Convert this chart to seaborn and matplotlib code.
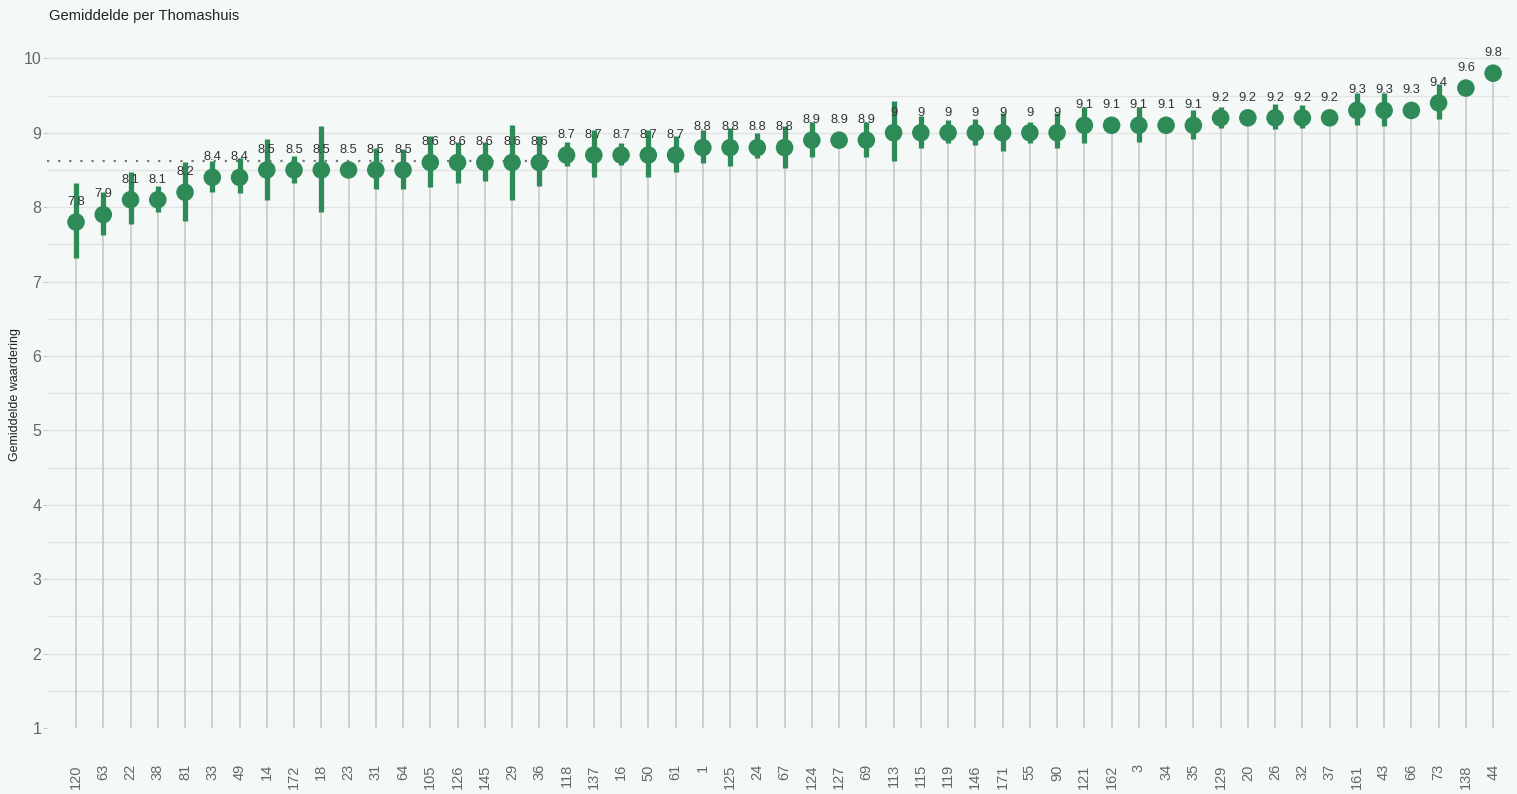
import numpy as np
import pandas as pd
import matplotlib.pyplot as plt
import seaborn as sns

sns.set_theme(style="white")
plt.rcParams['font.family'] = ['Liberation Sans', 'DejaVu Sans']

# data
huizen = ["120", "63", "22", "38", "81", "33", "49", "14", "172", "18",
          "23", "31", "64", "105", "126", "145", "29", "36", "118", "137",
          "16", "50", "61", "1", "125", "24", "67", "124", "127", "69",
          "113", "115", "119", "146", "171", "55", "90", "121", "162", "3",
          "34", "35", "129", "20", "26", "32", "37", "161", "43", "66",
          "73", "138", "44"]
gemiddelde = [7.8, 7.9, 8.1, 8.1, 8.2, 8.4, 8.4, 8.5, 8.5, 8.5,
              8.5, 8.5, 8.5, 8.6, 8.6, 8.6, 8.6, 8.6, 8.7, 8.7,
              8.7, 8.7, 8.7, 8.8, 8.8, 8.8, 8.8, 8.9, 8.9, 8.9,
              9.0, 9.0, 9.0, 9.0, 9.0, 9.0, 9.0, 9.1, 9.1, 9.1,
              9.1, 9.1, 9.2, 9.2, 9.2, 9.2, 9.2, 9.3, 9.3, 9.3,
              9.4, 9.6, 9.8]
ondergrens = [7.31, 7.63, 7.77, 7.93, 7.81, 8.21, 8.19, 8.09, 8.33, 7.93,
              8.42, 8.24, 8.25, 8.27, 8.32, 8.35, 8.10, 8.28, 8.55, 8.40,
              8.56, 8.40, 8.47, 8.59, 8.55, 8.66, 8.53, 8.68, 8.84, 8.68,
              8.62, 8.80, 8.86, 8.84, 8.75, 8.86, 8.79, 8.86, 9.04, 8.87,
              9.04, 8.92, 9.07, 9.14, 9.05, 9.06, 9.14, 9.11, 9.09, 9.24,
              9.18, 9.54, 9.74]
bovengrens = [8.33, 8.20, 8.47, 8.29, 8.60, 8.62, 8.66, 8.92, 8.69, 9.09,
              8.58, 8.80, 8.78, 8.95, 8.88, 8.88, 9.11, 8.95, 8.87, 9.03,
              8.86, 9.03, 8.96, 9.04, 9.07, 8.99, 9.09, 9.14, 8.96, 9.14,
              9.42, 9.23, 9.17, 9.19, 9.27, 9.15, 9.26, 9.35, 9.16, 9.35,
              9.16, 9.30, 9.34, 9.26, 9.38, 9.37, 9.26, 9.53, 9.53, 9.36,
              9.66, 9.66, 9.86]
totaal_gemiddelde = 8.62

df = pd.DataFrame({"huis": huizen, "gem": gemiddelde,
                   "lo": ondergrens, "hi": bovengrens})
groen = "#2e8b57"
bg = "#f4f9f7"

fig = plt.figure(figsize=(15.17, 7.94), dpi=100, facecolor=bg)
ax = fig.add_axes([0.031, 0.083, 0.9644, 0.867])
ax.set_facecolor(bg)

x = np.arange(len(df))
# light horizontal grid every 0.5
for g in np.arange(1, 10.01, 0.5):
    ax.axhline(g, color="#e2e4e3", lw=1, zorder=0)

# stems from 1 up to the mean
ax.vlines(x, 1, df["gem"], color="#c8c8c8", lw=1.2, zorder=1)
# overall mean (dotted)
ax.plot([-1.06, 17.6], [totaal_gemiddelde] * 2, ls=(0, (1, 4)),
        color="#777777", lw=1.6, zorder=1)
# confidence bars
ax.vlines(x, df["lo"], df["hi"], color=groen, lw=3.8, zorder=2)
sns.scatterplot(data=df, x="huis", y="gem", color=groen, s=160,
                marker="o", edgecolor="none", zorder=3, ax=ax)

for xi, v in zip(x, df["gem"]):
    ax.annotate(f"{v:g}", (xi, v), xytext=(0, 14.5), textcoords="offset points",
                ha="center", va="center", fontsize=9.3, color="#333333", zorder=4)

ax.set_xlim(-1.064, 52.62)
ax.set_ylim(1, 10.25)
ax.set_yticks(range(1, 11))
ax.set_xticks(x)
ax.set_xticklabels(huizen, rotation=90, fontsize=10.5, color="#666666")
ax.tick_params(axis="x", length=0, pad=26)
ax.tick_params(axis="y", length=3, width=0.8, color="#c8c8c8",
               labelsize=11.5, labelcolor="#666666", pad=1, left=True)
for s in ax.spines.values():
    s.set_visible(False)
ax.set_xlabel("")
ax.set_ylabel("Gemiddelde waardering", fontsize=9, color="#222222",
              va="center")
ax.yaxis.set_label_coords(-0.022, 0.484)
fig.text(0.032, 0.980, "Gemiddelde per Thomashuis", fontsize=10.6,
         color="#222222", ha="left", va="center")

plt.savefig("out.png", dpi=100, facecolor=bg)
